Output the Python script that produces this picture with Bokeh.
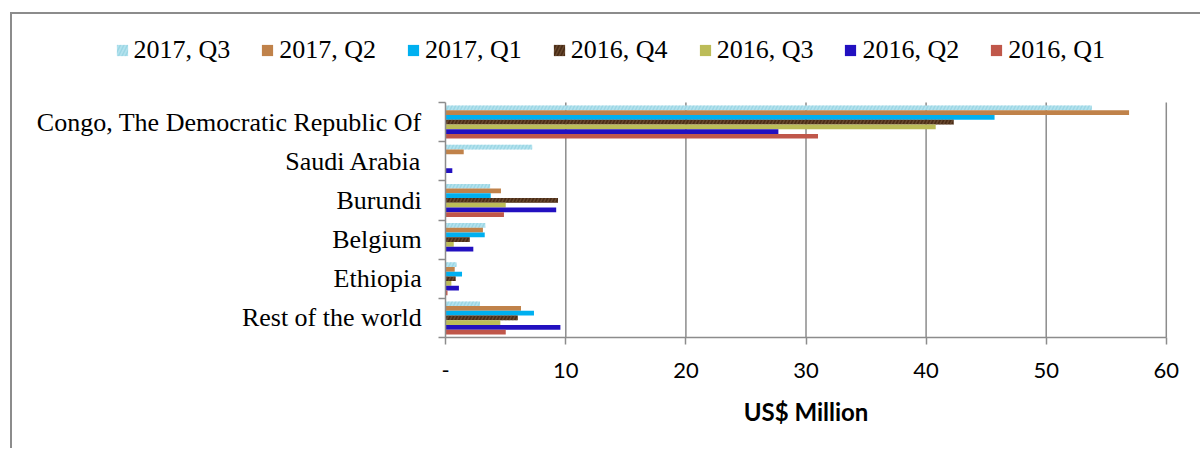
from bokeh.plotting import figure
from bokeh.models import FixedTicker, Legend, LegendItem, Range1d, ColumnDataSource, Label
from bokeh.embed import file_html
from bokeh.resources import INLINE

# ---- data ----
countries = ["Congo, The Democratic Republic Of", "Saudi Arabia", "Burundi",
             "Belgium", "Ethiopia", "Rest of the world"]
series_names = ["2017, Q3", "2017, Q2", "2017, Q1", "2016, Q4",
                "2016, Q3", "2016, Q2", "2016, Q1"]
q3_2017 = [53.8, 7.2, 3.7, 3.3, 0.9, 2.85]
q2_2017 = [56.9, 1.5, 4.6, 3.1, 0.75, 6.27]
q1_2017 = [45.7, 0.0, 3.75, 3.25, 1.36, 7.35]
q4_2016 = [42.3, 0.0, 9.35, 2.0, 0.83, 6.0]
q3_2016 = [40.8, 0.0, 5.0, 0.67, 0.47, 4.55]
q2_2016 = [27.7, 0.55, 9.2, 2.3, 1.1, 9.55]
q1_2016 = [31.0, 0.0, 4.85, 0.0, 0.15, 5.0]
series_values = [q3_2017, q2_2017, q1_2017, q4_2016, q3_2016, q2_2016, q1_2016]
colors = ["#b3e2ee", "#c0824a", "#00b0f0", "#4a2c16", "#bcbc58", "#2210c0", "#c0574a"]
# textured fills of the reference (marbled cyan, marbled brown)
hatch_patterns = ["right_diagonal_line", None, None, "right_diagonal_line", None, None, None]
hatch_colors = ["#8ccfdd", None, None, "#7a5a3c", None, None, None]
x_ticks = [0, 10, 20, 30, 40, 50, 60]
x_title = "US$ Million"

n_cat = len(countries)
centers = [n_cat - 0.5 - i for i in range(n_cat)]
bar_h = 1 / 8.3
x_max = x_ticks[-1]

# layout geometry (pixels, canvas coordinates)
W, H = 1190, 436
B_LEFT, B_RIGHT, B_TOP, B_BOTTOM = 8, 4, 12, 4
px_per_x = 12.01            # pixels per US$ million
px_per_cat = 235 / n_cat    # pixels per category band
zero_col = 433.2            # canvas column of the category axis
zero_row = 323              # canvas row of the value axis
x_start = -(zero_col - B_LEFT) / px_per_x
x_end = ((W - B_RIGHT) - zero_col) / px_per_x
y_end = (zero_row - B_TOP) / px_per_cat
y_start = -((H - B_BOTTOM) - zero_row) / px_per_cat

p = figure(width=W, height=H, x_range=Range1d(x_start, x_end), y_range=Range1d(y_start, y_end),
           output_backend="svg", toolbar_location=None,
           min_border_left=B_LEFT, min_border_right=B_RIGHT,
           min_border_top=B_TOP, min_border_bottom=B_BOTTOM)
p.styles = {"margin-left": "9.5px", "margin-top": "12px",
            "border-left": "2px solid #8c8c8c", "border-top": "2px solid #8c8c8c"}
p.outline_line_color = None
p.background_fill_color = "white"
p.border_fill_color = "white"
p.xgrid.visible = False
p.ygrid.visible = False

# vertical gridlines, limited to the category area
gx = x_ticks[1:]
p.segment(x0=gx, x1=gx, y0=[0] * len(gx), y1=[n_cat] * len(gx),
          line_color="#8c8c8c", line_width=1.5)

items = []
ns = len(series_names)
for i, (name, vals, col) in enumerate(zip(series_names, series_values, colors)):
    off = ((ns - 1) / 2 - i) * bar_h
    src = ColumnDataSource(dict(y=[c + off for c in centers], right=vals))
    kw = {}
    if hatch_patterns[i]:
        kw = dict(hatch_pattern=hatch_patterns[i], hatch_color=hatch_colors[i],
                  hatch_alpha=0.6, hatch_scale=7, hatch_weight=1.5)
    r = p.hbar(y="y", right="right", left=0, height=bar_h, source=src,
               fill_color=col, line_color=None, **kw)
    items.append(LegendItem(label=name, renderers=[r]))

# x axis, drawn at y = 0 inside the frame
xa = p.xaxis[0]
xa.fixed_location = 0
xa.bounds = (0, x_max)
xa.ticker = FixedTicker(ticks=x_ticks)
xa.major_label_overrides = {0: "-"}
xa.axis_line_color = "#8c8c8c"
xa.axis_line_width = 1.5
xa.major_tick_line_color = "#8c8c8c"
xa.major_tick_line_width = 1.5
xa.major_tick_out = 7
xa.major_tick_in = 0
xa.minor_tick_line_color = None
xa.major_label_text_font = "Lato"
xa.major_label_text_font_size = "22px"
xa.major_label_text_color = "black"
xa.major_label_standoff = 18

# axis title centred under the value axis
p.add_layout(Label(x=x_max / 2, y=(H - B_BOTTOM) - 411 + 14, x_units="data", y_units="screen",
                   text=x_title, text_align="center", text_baseline="middle",
                   text_font="Lato", text_font_style="bold", text_font_size="24px",
                   text_color="black"))

# y axis, drawn at x = 0 inside the frame
ya = p.yaxis[0]
ya.fixed_location = 0
ya.bounds = (0, n_cat)
ya.ticker = FixedTicker(ticks=centers, minor_ticks=list(range(n_cat + 1)))
ya.major_label_overrides = {c: name for c, name in zip(centers, countries)}
ya.axis_line_color = "#8c8c8c"
ya.axis_line_width = 1.5
ya.major_tick_line_color = None
ya.major_tick_out = 0
ya.major_tick_in = 0
ya.minor_tick_line_color = "#8c8c8c"
ya.minor_tick_line_width = 1.5
ya.minor_tick_out = 7
ya.minor_tick_in = 0
ya.major_label_text_font = "Liberation Serif"
ya.major_label_text_font_size = "26px"
ya.major_label_text_color = "black"
ya.major_label_standoff = 17

legend = Legend(items=items, orientation="horizontal",
                location=(95, (H - B_BOTTOM) - 65 + 14),
                label_text_font="Liberation Serif", label_text_font_size="26px",
                label_text_color="black", glyph_width=14, glyph_height=14,
                label_standoff=5, spacing=30, padding=0, margin=0,
                border_line_color=None, background_fill_alpha=0)
p.add_layout(legend, "center")

open("out.html", "w").write(file_html(p, INLINE))
